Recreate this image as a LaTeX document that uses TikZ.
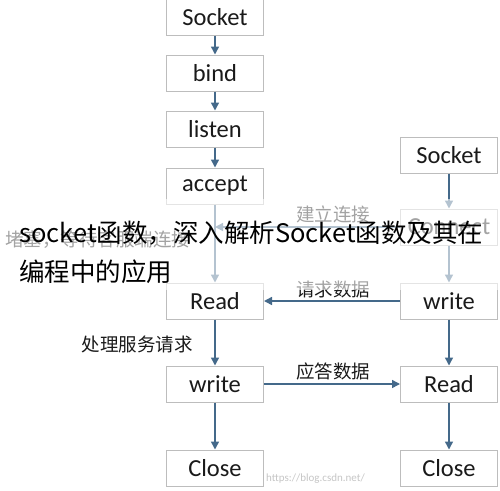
\documentclass[tikz,border=0pt]{standalone}
\usepackage{fontspec}
\setmainfont{Carlito}
\newfontfamily\cjk{Noto Sans CJK SC}
\usetikzlibrary{arrows.meta}
\definecolor{arr}{HTML}{44698A}
\definecolor{boxline}{HTML}{BDBDBD}
\definecolor{txt}{HTML}{1A1A1A}
\tikzset{
  fnbox/.style={draw=boxline, line width=1pt, fill=white, minimum width=97pt, minimum height=36pt, inner sep=0pt, text=txt, font=\fontsize{24.5}{26}\selectfont},
  flow/.style={draw=arr, line width=1.5pt, -{Triangle[width=8pt,length=8pt]}},
  lbl/.style={text=txt, font=\cjk\fontsize{18.5}{20}\selectfont, inner sep=0pt}
}
\begin{document}
\begin{tikzpicture}[x=1pt,y=-1pt]
\useasboundingbox (0,0) rectangle (500,490);
\fill[white] (0,0) rectangle (500,490);
% server column
\node[fnbox] (ss) at (215,17) {Socket};
\node[fnbox] (sb) at (215,73) {bind};
\node[fnbox] (sl) at (215,129) {listen};
\node[fnbox] (sa) at (215,186) {accept};
\node[fnbox] (sr) at (215,301) {Read};
\node[fnbox] (sw) at (215,384) {write};
\node[fnbox] (sc) at (215,468) {Close};
% client column
\node[fnbox] (cs) at (449,155) {Socket};
\node[fnbox] (cc) at (449,227) {Connect};
\node[fnbox] (cw) at (449,301) {write};
\node[fnbox] (cr) at (449,384) {Read};
\node[fnbox] (cx) at (449,468) {Close};
\coordinate (hit) at (sa.south |- cc.west);
% vertical flows
\draw[flow] (ss) -- (sb);
\draw[flow] (sb) -- (sl);
\draw[flow] (sl) -- (sa);
\draw[flow] (sa) -- (sr);
\draw[flow] (sr) -- (sw);
\draw[flow] (sw) -- (sc);
\draw[flow] (cs) -- (cc);
\draw[flow] (cc) -- (cw);
\draw[flow] (cw) -- (cr);
\draw[flow] (cr) -- (cx);
% horizontal flows
\draw[flow] (cc.west) -- (hit);
\draw[flow] (cw) -- (sr);
\draw[flow] (sw) -- (cr);
% labels
\node[lbl] (l1) at (333,214) {建立连接};
\node[lbl] (l2) at (333,289) {请求数据};
\node[lbl] (l3) at (333,371) {应答数据};
\node[lbl] (l4) at (137,344) {处理服务请求};
\node[lbl, anchor=west] (l5) at (5,240) {堵塞，等待客服端连接};
\node[text=gray!45, font=\fontsize{11}{12}\selectfont, anchor=west, inner sep=0pt] (wm) at (266,479) {https://blog.csdn.net/};
% overlay band
\fill[white, opacity=0.6] (0,199) rectangle (500,290);
\node[anchor=west, inner sep=0pt, text=black, font=\cjk\fontsize{25.5}{27}\selectfont] (t1) at (19,233) {socket函数，深入解析Socket函数及其在};
\node[anchor=west, inner sep=0pt, text=black, font=\cjk\fontsize{25.5}{27}\selectfont] (t2) at (19,272) {编程中的应用};
\end{tikzpicture}
\end{document}
